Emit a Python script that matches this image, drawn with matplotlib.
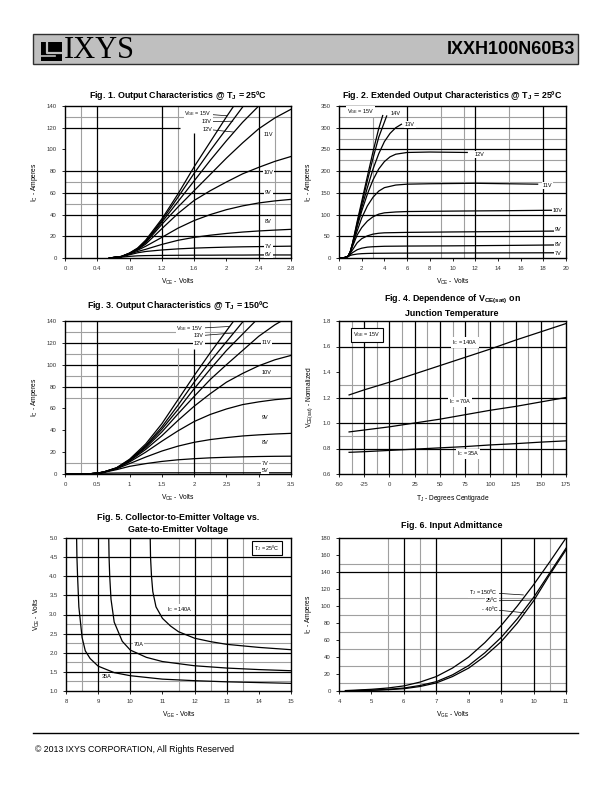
import matplotlib
matplotlib.use("Agg")
import matplotlib.pyplot as plt
from matplotlib.patches import Rectangle

plt.rcParams["font.family"] = ["Liberation Sans", "DejaVu Sans"]
plt.rcParams["mathtext.default"] = "regular"

W, H = 612, 792

# ---- Fig. 1  Output characteristics @ 25C ----
f1_vce = [0.55, 0.7, 0.8, 0.9, 1.0, 1.2, 1.4, 1.6, 1.8, 2.0, 2.2, 2.4, 2.6, 2.8]
f1_6v = [0, 0.8, 1.5, 2.0, 2.2, 2.4, 2.5, 2.6, 2.6, 2.7, 2.7, 2.8, 2.8, 2.8]
f1_7v = [0, 1.2, 3.0, 4.8, 6.0, 7.4, 8.4, 9.1, 9.6, 10.0, 10.3, 10.5, 10.7, 10.9]
f1_8v = [0, 1.3, 3.6, 6.0, 8.0, 12.5, 16.3, 19.0, 21.0, 22.6, 23.9, 24.9, 25.7, 26.4]
f1_9v = [0, 1.3, 3.9, 7.2, 10.8, 19.0, 27.5, 34.5, 40.0, 44.5, 48.0, 50.7, 52.6, 54.0]
f1_10v = [0, 1.3, 4.0, 7.8, 12.8, 27.0, 41.0, 53.0, 62.0, 70.0, 77.5, 83.5, 89.0, 93.5]
f1_11v = [0, 1.4, 4.2, 8.2, 14.0, 31.0, 47.0, 62.0, 77.0, 92.0, 106.0, 119.0, 129.0, 137.0]
f1_12v = [0, 1.4, 4.3, 8.5, 14.8, 33.0, 52.0, 71.0, 90.0, 108.0, 125.0, 140.0, 154.0, 167.0]
f1_13v = [0, 1.4, 4.4, 8.8, 15.5, 34.5, 56.0, 78.0, 99.0, 119.0, 139.0, 158.0, 176.0, 194.0]
f1_15v = [0, 1.5, 4.6, 9.2, 16.5, 36.0, 59.0, 84.0, 107.0, 130.0, 152.0, 174.0, 196.0, 218.0]
f1_xticks = [0, 0.4, 0.8, 1.2, 1.6, 2.0, 2.4, 2.8]
f1_xlabels = ["0", "0.4", "0.8", "1.2", "1.6", "2", "2.4", "2.8"]
f1_yticks = [0, 20, 40, 60, 80, 100, 120, 140]

# ---- Fig. 2  Extended output characteristics @ 25C ----
f2_15v_x = [0, 0.5, 0.8, 1.0, 1.2, 1.6, 2.0, 2.5, 3.0, 3.5, 3.85]
f2_15v_y = [0, 1, 4, 15, 35, 84, 130, 188, 245, 298, 328]
f2_14v_x = [0, 0.5, 0.8, 1.0, 1.2, 1.6, 2.0, 2.5, 3.0, 3.5, 4.2]
f2_14v_y = [0, 1, 4, 15, 34, 80, 124, 178, 230, 278, 327]
f2_13v_x = [0, 0.5, 0.8, 1.0, 1.2, 1.6, 2.0, 2.5, 3.0, 3.5, 4.0, 4.5, 5.0, 5.5]
f2_13v_y = [0, 1, 4, 15, 33, 76, 116, 162, 205, 240, 268, 287, 300, 308]
f2_12v_x = [0, 0.5, 0.8, 1.0, 1.2, 1.6, 2.0, 2.5, 3.0, 3.5, 4.0, 4.5, 5.0, 6.0, 8.0, 11.3]
f2_12v_y = [0, 1, 4, 14, 32, 72, 108, 147, 180, 205, 222, 233, 239, 243, 244, 243]
f2_11v_x = [0, 0.5, 0.8, 1.0, 1.2, 1.6, 2.0, 2.5, 3.0, 3.5, 4.0, 5.0, 6.0, 8.0, 12.0, 17.5]
f2_11v_y = [0, 1, 4, 14, 31, 62, 92, 120, 140, 154, 162, 168, 170, 171, 172, 170]
f2_10v_x = [0, 0.5, 0.8, 1.0, 1.2, 1.6, 2.0, 2.5, 3.0, 3.5, 4.0, 5.0, 6.0, 10.0, 15.0, 19.0]
f2_10v_y = [0, 1, 4, 13, 27, 53, 70, 85, 95, 101, 104, 106, 107, 108, 109, 110]
f2_9v_x = [0, 0.5, 0.8, 1.0, 1.2, 1.6, 2.0, 2.5, 3.0, 3.5, 4.0, 6.0, 10.0, 15.0, 19.0]
f2_9v_y = [0, 1, 4, 11, 19, 35, 44.5, 51, 55, 57, 58, 59, 60, 61, 62]
f2_8v_x = [0, 0.5, 0.8, 1.0, 1.2, 1.6, 2.0, 2.5, 3.0, 4.0, 6.0, 10.0, 15.0, 19.0]
f2_8v_y = [0, 1, 3.5, 8, 12.5, 19, 22.6, 25, 26, 27, 27.5, 28, 29, 30]
f2_7v_x = [0, 0.5, 0.8, 1.0, 1.2, 1.6, 2.0, 2.5, 3.0, 5.0, 10.0, 15.0, 19.0]
f2_7v_y = [0, 0.8, 3, 6, 7.4, 9.1, 10, 10.5, 10.8, 11.2, 11.5, 11.8, 12]
f2_xticks = [0, 2, 4, 6, 8, 10, 12, 14, 16, 18, 20]
f2_yticks = [0, 50, 100, 150, 200, 250, 300, 350]

# ---- Fig. 3  Output characteristics @ 150C ----
f3_vce = [0, 0.4, 0.5, 0.6, 0.8, 1.0, 1.25, 1.5, 1.75, 2.0, 2.25, 2.5, 2.75, 3.0, 3.25, 3.5]
f3_5v = [0, 0.2, 0.5, 0.7, 0.9, 1.0, 1.0, 1.1, 1.1, 1.1, 1.1, 1.1, 1.1, 1.1, 1.1, 1.1]
f3_7v = [0, 0.3, 0.8, 1.5, 4.0, 7.0, 9.5, 11.5, 13.0, 14.0, 14.8, 15.3, 15.7, 16.0, 16.2, 16.3]
f3_8v = [0, 0.3, 0.8, 1.6, 4.8, 9.5, 15.5, 21.0, 25.5, 29.0, 31.5, 33.3, 34.8, 35.8, 36.6, 37.2]
f3_9v = [0, 0.3, 0.8, 1.7, 5.0, 11.0, 20.0, 30.0, 39.5, 48.0, 54.5, 59.5, 63.5, 66.0, 68.0, 69.3]
f3_10v = [0, 0.3, 0.8, 1.7, 5.2, 11.8, 22.5, 35.0, 49.0, 62.0, 73.5, 84.0, 92.0, 99.0, 104.5, 108.5]
f3_11v = [0, 0.3, 0.8, 1.8, 5.4, 12.3, 24.0, 38.5, 55.0, 71.0, 86.5, 100.0, 113.0, 126.0, 136.5, 145.0]
f3_12v = [0, 0.3, 0.8, 1.8, 5.5, 12.7, 25.0, 41.0, 59.0, 78.0, 96.0, 113.0, 128.0, 143.0, 157.0, 170.0]
f3_13v = [0, 0.3, 0.8, 1.8, 5.6, 13.0, 26.0, 43.0, 63.0, 84.0, 103.0, 121.0, 139.0, 156.0, 172.0, 188.0]
f3_15v = [0, 0.3, 0.8, 1.9, 5.8, 13.5, 27.5, 46.0, 68.0, 90.0, 111.0, 131.0, 151.0, 171.0, 190.0, 210.0]
f3_xticks = [0, 0.5, 1.0, 1.5, 2.0, 2.5, 3.0, 3.5]
f3_xlabels = ["0", "0.5", "1", "1.5", "2", "2.5", "3", "3.5"]
f3_yticks = [0, 20, 40, 60, 80, 100, 120, 140]

# ---- Fig. 4  VCE(sat) vs junction temperature ----
f4_tj = [-40, -25, 0, 25, 50, 75, 100, 125, 150, 175]
f4_140a = [1.22, 1.26, 1.32, 1.385, 1.45, 1.515, 1.58, 1.65, 1.715, 1.78]
f4_70a = [0.93, 0.945, 0.97, 1.0, 1.03, 1.065, 1.10, 1.13, 1.165, 1.20]
f4_35a = [0.77, 0.775, 0.785, 0.795, 0.805, 0.815, 0.828, 0.838, 0.85, 0.86]
f4_xticks = [-50, -25, 0, 25, 50, 75, 100, 125, 150, 175]
f4_yticks = [0.6, 0.8, 1.0, 1.2, 1.4, 1.6, 1.8]
f4_ylabels = ["0.6", "0.8", "1.0", "1.2", "1.4", "1.6", "1.8"]

# ---- Fig. 5  VCE vs VGE ----
f5_140a_x = [10.62, 10.63, 10.66, 10.7, 10.8, 11.0, 11.25, 11.5, 12.0, 12.5, 13.0, 14.0, 15.0]
f5_140a_y = [5.0, 4.5, 4.0, 3.6, 3.2, 2.9, 2.7, 2.55, 2.38, 2.29, 2.22, 2.14, 2.08]
f5_70a_x = [9.33, 9.34, 9.36, 9.4, 9.5, 9.75, 10.0, 10.5, 11.0, 12.0, 13.0, 14.0, 15.0]
f5_70a_y = [5.0, 4.5, 4.0, 3.4, 2.8, 2.3, 2.07, 1.88, 1.77, 1.66, 1.6, 1.56, 1.53]
f5_35a_x = [8.33, 8.34, 8.36, 8.4, 8.5, 8.6, 8.75, 9.0, 9.5, 10.0, 11.0, 12.0, 13.0, 14.0, 15.0]
f5_35a_y = [5.0, 4.5, 4.0, 3.2, 2.4, 2.05, 1.85, 1.65, 1.48, 1.4, 1.31, 1.27, 1.24, 1.22, 1.2]
f5_xticks = [8, 9, 10, 11, 12, 13, 14, 15]
f5_yticks = [1.0, 1.5, 2.0, 2.5, 3.0, 3.5, 4.0, 4.5, 5.0]
f5_ylabels = ["1.0", "1.5", "2.0", "2.5", "3.0", "3.5", "4.0", "4.5", "5.0"]

# ---- Fig. 6  Input admittance ----
f6_vge = [4.2, 4.5, 5.0, 5.5, 6.0, 6.5, 7.0, 7.5, 8.0, 8.5, 9.0, 9.5, 10.0, 10.5, 11.0]
f6_150c = [0.5, 1, 2, 3.5, 6, 10.5, 17, 27, 40, 57, 77, 100, 125, 152, 180]
f6_25c = [0.3, 0.5, 1, 2, 3.5, 6.5, 11, 19, 30, 45, 63, 85, 110, 139, 168]
f6_m40c = [0.2, 0.4, 0.8, 1.5, 2.7, 5.3, 9.5, 17, 27, 41, 58, 80, 106, 137, 166]
f6_xticks = [4, 5, 6, 7, 8, 9, 10, 11]
f6_yticks = [0, 20, 40, 60, 80, 100, 120, 140, 160, 180]

GRAY = "#a0a0a0"
LBL = dict(fc="white", ec="none", pad=0.6)
BOX = dict(fc="white", ec="black", lw=0.8, pad=1.5)
LEAD = dict(arrowstyle="-", lw=0.5, color="black", shrinkA=0, shrinkB=0)

fig = plt.figure(figsize=(W / 100, H / 100), dpi=100)


def px_axes(left, top, right, bottom):
    return fig.add_axes([left / W, 1 - bottom / H, (right - left) / W, (bottom - top) / H])


def frame(ax, xlim, ylim, xticks, xlabels, yticks, ylabels, xlabel, ylabel):
    ax.set_xlim(xlim)
    ax.set_ylim(ylim)
    ax.set_xticks(xticks)
    ax.set_xticklabels(xlabels if xlabels else [str(t) for t in xticks])
    ax.set_yticks(yticks)
    ax.set_yticklabels(ylabels if ylabels else [str(t) for t in yticks])
    ax.tick_params(labelsize=4.3, length=2, width=0.6, pad=4, labelcolor="#333333")
    for s in ax.spines.values():
        s.set_linewidth(1.0)
    ax.set_xlabel(xlabel, fontsize=4.8, labelpad=4)
    ax.set_ylabel(ylabel, fontsize=4.8, labelpad=5)


def grid(ax, bx=(), gx=(), by=(), gy=()):
    for v in gx:
        ax.axvline(v, color=GRAY, lw=0.8, zorder=1)
    for v in gy:
        ax.axhline(v, color=GRAY, lw=0.8, zorder=1)
    for v in bx:
        ax.axvline(v, color="black", lw=0.9, zorder=1)
    for v in by:
        ax.axhline(v, color="black", lw=0.9, zorder=1)


def curve(ax, x, y):
    ax.plot(x, y, color="black", lw=0.9, zorder=3)


def label(ax, x, y, s, ha="center", bbox=LBL):
    ax.text(x, y, s, fontsize=4, ha=ha, va="center", bbox=bbox, zorder=4)


def lead(ax, s, xy, xytext):
    ax.annotate(s, xy=xy, xytext=xytext, fontsize=4, ha="right", va="center",
                bbox=LBL, arrowprops=LEAD, zorder=4)


def title(x, y, s):
    fig.text(x / W, 1 - y / H, s, ha="center", va="center", fontsize=6.4,
             fontweight="bold")


IC = "$I_C$ - Amperes"

# Fig. 1
ax1 = px_axes(65, 106, 291, 258)
frame(ax1, (0, 2.8), (0, 140), f1_xticks, f1_xlabels, f1_yticks, None, "$V_{CE}$ - Volts", IC)
grid(ax1, bx=[0.4, 1.2, 2.4], gx=[0.2, 1.4, 2.6], by=[20, 40, 60, 80], gy=[50, 70, 130])
ax1.hlines(120, 0, 1.42, color="black", lw=0.9, zorder=1)
ax1.vlines(1.6, 0, 115, color="black", lw=0.9, zorder=1)
for y in [f1_6v, f1_7v, f1_8v, f1_9v, f1_10v, f1_11v, f1_12v, f1_13v, f1_15v]:
    curve(ax1, f1_vce, y)
lead(ax1, "$V_{GE}$ = 15V", (2.01, 131), (1.82, 133))
lead(ax1, "13V", (2.08, 126), (1.82, 125.5))
lead(ax1, "12V", (2.09, 116), (1.82, 118.5))
for x, y, s in [(2.52, 114, "11V"), (2.52, 79, "10V"), (2.52, 60, "9V"),
                (2.52, 34, "8V"), (2.52, 11, "7V"), (2.52, 3, "6V")]:
    label(ax1, x, y, s)
title(178, 96, "Fig. 1. Output Characteristics @ T$_J$ = 25ºC")

# Fig. 2
ax2 = px_axes(339, 106, 566, 258)
frame(ax2, (0, 20), (0, 350), f2_xticks, None, f2_yticks, None, "$V_{CE}$ - Volts", IC)
grid(ax2, bx=[6, 12, 18], gx=[3, 9, 11, 15], by=[50, 100, 150, 200, 250, 300], gy=[175, 225, 275, 325])
for x, y in [(f2_15v_x, f2_15v_y), (f2_14v_x, f2_14v_y), (f2_13v_x, f2_13v_y),
             (f2_12v_x, f2_12v_y), (f2_11v_x, f2_11v_y), (f2_10v_x, f2_10v_y),
             (f2_9v_x, f2_9v_y), (f2_8v_x, f2_8v_y), (f2_7v_x, f2_7v_y)]:
    curve(ax2, x, y)
label(ax2, 0.7, 337, "$V_{GE}$ = 15V", ha="left")
for x, y, s in [(4.95, 333, "14V"), (6.25, 307, "13V"), (12.35, 238, "12V"),
                (18.35, 167, "11V"), (19.25, 110, "10V"), (19.3, 66, "9V"),
                (19.3, 30, "8V"), (19.3, 11, "7V")]:
    label(ax2, x, y, s)
title(452, 96, "Fig. 2. Extended Output Characteristics @ T$_J$ = 25ºC")

# Fig. 3
ax3 = px_axes(65, 321, 291, 474)
frame(ax3, (0, 3.5), (0, 140), f3_xticks, f3_xlabels, f3_yticks, None, "$V_{CE}$ - Volts", IC)
grid(ax3, bx=[0.5], gx=[0.25, 2.25, 2.75], by=[80, 100, 120], gy=[10, 70, 90, 110, 130])
ax3.vlines(1.75, 0, 115, color=GRAY, lw=0.8, zorder=1)
ax3.vlines(2.0, 0, 114, color="black", lw=0.9, zorder=1)
for y in [f3_5v, f3_7v, f3_8v, f3_9v, f3_10v, f3_11v, f3_12v, f3_13v, f3_15v]:
    curve(ax3, f3_vce, y)
lead(ax3, "$V_{GE}$ = 15V", (2.55, 135), (2.15, 133))
lead(ax3, "13V", (2.6, 129), (2.15, 126.5))
lead(ax3, "12V", (2.62, 120), (2.15, 119.5))
for x, y, s in [(3.12, 120, "11V"), (3.12, 93, "10V"), (3.1, 52, "9V"),
                (3.1, 29, "8V"), (3.1, 9.5, "7V"), (3.1, 3, "5V")]:
    label(ax3, x, y, s)
title(178, 305, "Fig. 3. Output Characteristics @ T$_J$ = 150ºC")

# Fig. 4
ax4 = px_axes(339, 321, 566, 474)
frame(ax4, (-50, 175), (0.6, 1.8), f4_xticks, None, f4_yticks, f4_ylabels,
      "T$_J$ - Degrees Centigrade", "$V_{CE(sat)}$ - Normalized")
grid(ax4, bx=[-25, 0, 25, 50, 75, 100, 125, 150], gx=[-37.5, -12.5, 12.5, 37.5, 62.5, 87.5, 112.5, 137.5, 162.5],
     by=[0.8, 1.0, 1.2, 1.6], gy=[0.9, 1.3])
for y in [f4_140a, f4_70a, f4_35a]:
    curve(ax4, f4_tj, y)
label(ax4, -22.5, 1.69, "$V_{GE}$ = 15V", bbox=BOX)
label(ax4, 75, 1.63, "$I_C$ = 140A")
label(ax4, 70, 1.165, "$I_C$ = 70A")
label(ax4, 78, 0.757, "$I_C$ = 35A")
title(452, 299, "Fig. 4. Dependence of V$_{CE(sat)}$ on")
title(452, 313, "Junction Temperature")

# Fig. 5
ax5 = px_axes(66, 538, 291, 691)
frame(ax5, (8, 15), (1.0, 5.0), f5_xticks, None, f5_yticks, f5_ylabels, "$V_{GE}$ - Volts", "$V_{CE}$ - Volts")
grid(ax5, bx=[9, 10, 12, 13], gx=[8.5, 11.5, 12.5, 13.5],
     by=[1.5, 2.0, 2.5, 3.0, 3.5, 4.0, 4.5], gy=[1.25, 1.75, 2.25, 2.75])
for x, y in [(f5_140a_x, f5_140a_y), (f5_70a_x, f5_70a_y), (f5_35a_x, f5_35a_y)]:
    curve(ax5, x, y)
label(ax5, 11.55, 3.14, "$I_C$ = 140A")
label(ax5, 10.25, 2.22, "70A")
label(ax5, 9.25, 1.38, "35A")
label(ax5, 14.25, 4.75, "T$_J$ = 25ºC", bbox=BOX)
title(178, 517, "Fig. 5. Collector-to-Emitter Voltage vs.")
title(178, 530, "Gate-to-Emitter Voltage")

# Fig. 6
ax6 = px_axes(339, 538, 566, 691)
frame(ax6, (4, 11), (0, 180), f6_xticks, None, f6_yticks, None, "$V_{GE}$ - Volts", IC)
grid(ax6, bx=[6, 7, 9, 10], gx=[5.5, 6.5, 10.5], by=[140], gy=[10, 30, 50, 70, 90, 110, 150])
for y in [f6_150c, f6_25c, f6_m40c]:
    curve(ax6, f6_vge, y)
lead(ax6, "T$_J$ = 150ºC", (9.69, 113), (8.9, 116))
lead(ax6, "25ºC", (9.95, 107), (8.9, 106))
lead(ax6, "- 40ºC", (9.73, 92), (8.9, 96))
title(452, 525, "Fig. 6. Input Admittance")

# header and footer
hdr = fig.add_axes([0, 0, 1, 1], zorder=-1)
hdr.set_xlim(0, W)
hdr.set_ylim(H, 0)
hdr.axis("off")
hdr.add_patch(Rectangle((33, 34), 545, 30, fc="#bfbfbf", ec="#303030", lw=1.0))
hdr.add_patch(Rectangle((41, 42), 21, 19, fc="black", ec="none"))
hdr.plot([47, 47, 62], [42, 53, 53], color="#bfbfbf", lw=1.6)
hdr.plot([41, 55], [56, 56], color="#bfbfbf", lw=1.2)
hdr.text(64, 51, "IXYS", fontsize=22, family="Liberation Serif", va="center", ha="left")
hdr.text(575, 50, "IXXH100N60B3", fontsize=13, fontweight="bold", va="center", ha="right")
hdr.plot([33, 578], [733, 733], color="black", lw=1.0)
hdr.text(35, 750, "© 2013 IXYS CORPORATION, All Rights Reserved", fontsize=6.3, va="center", ha="left")

fig.savefig("out.png", dpi=100)
